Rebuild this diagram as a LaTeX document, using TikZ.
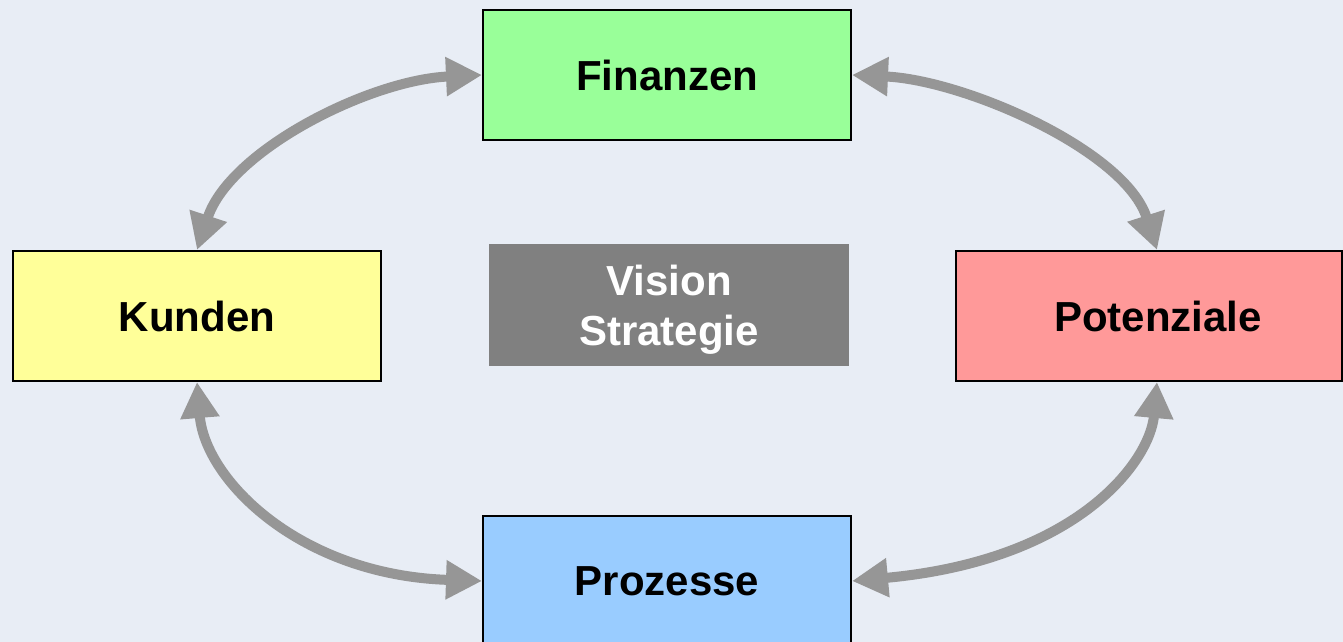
\documentclass[tikz,border=0pt]{standalone}
\usepackage{fontspec}
\setmainfont{Liberation Sans}
\usetikzlibrary{arrows.meta}
\definecolor{bg}{HTML}{E8EDF5}
\definecolor{arrowgray}{HTML}{969696}
\definecolor{visiongray}{HTML}{808080}
\definecolor{fgreen}{HTML}{99FF99}
\definecolor{fyellow}{HTML}{FFFF99}
\definecolor{fpink}{HTML}{FF9999}
\definecolor{fblue}{HTML}{99CCFF}
\begin{document}
\begin{tikzpicture}[x=0.5pt,y=-0.5pt,
  box/.style={draw=black,line width=1pt,minimum width=184pt,minimum height=65pt,
    inner sep=0pt,font=\fontsize{21}{25}\selectfont\bfseries,align=center},
  conn/.style={draw=arrowgray,line width=5pt,
    {Triangle[length=18pt,width=18.5pt]}-{Triangle[length=18pt,width=18.5pt]}}]
\useasboundingbox (0,0) rectangle (1343,642);
\fill[bg] (0,0) rectangle (1343,642);
\node[box,fill=fgreen] (fin) at (667,75) {Finanzen};
\node[box,fill=fyellow] (kun) at (197,316) {Kunden};
\node[box,fill=fpink,minimum width=193pt] (pot) at (1149,316) {\hspace*{9pt}Potenziale};
\node[box,fill=fblue] (pro) at (667,581) {Prozesse};
\node[fill=visiongray,text=white,minimum width=180pt,minimum height=61pt,inner sep=0pt,
  font=\fontsize{21}{25}\selectfont\bfseries] (vis) at (669,305)
  {\raisebox{0pt}[\dimexpr\height+5pt\relax]{\begin{tabular}{@{}c@{}}Vision\\Strategie\end{tabular}}};
\draw[conn] (fin.west) .. controls (370,80) and (230,150) .. (kun.north);
\draw[conn] (fin.east) .. controls (964,80) and (1125,150) .. ([xshift=4pt]pot.north);
\draw[conn] (kun.south) .. controls (205,480) and (300,575) .. (pro.west);
\draw[conn] ([xshift=4pt]pot.south) .. controls (1150,460) and (1080,560) .. (pro.east);
\end{tikzpicture}
\end{document}
